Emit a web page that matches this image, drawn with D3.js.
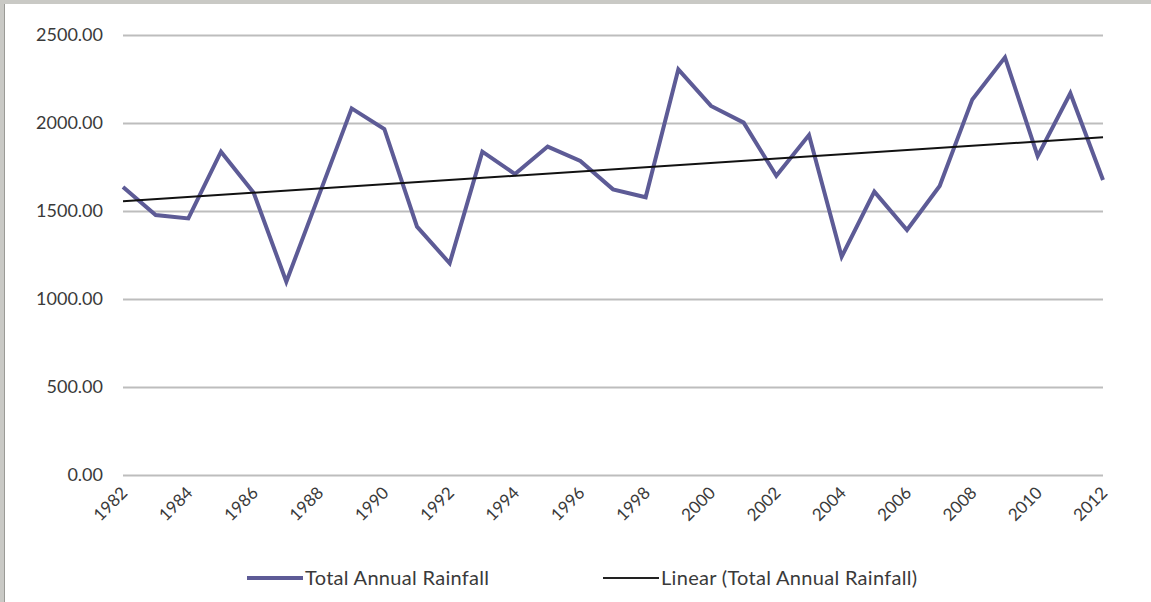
<!DOCTYPE html>
<html>
<head>
<meta charset="utf-8">
<script src="https://cdn.jsdelivr.net/npm/d3@7"></script>
<style>
  body { margin: 0; background: #fff; }
  svg { display: block; font-family: Lato, "Open Sans", sans-serif; }
</style>
</head>
<body>
<div id="chart-area"></div>
<script>
// data
var years = [1982, 1983, 1984, 1985, 1986, 1987, 1988, 1989, 1990, 1991,
             1992, 1993, 1994, 1995, 1996, 1997, 1998, 1999, 2000, 2001,
             2002, 2003, 2004, 2005, 2006, 2007, 2008, 2009, 2010, 2011, 2012];
var rainfall = [1636, 1477, 1458, 1837, 1604, 1098, 1590, 2083, 1966, 1411,
                1203, 1837, 1710, 1866, 1784, 1623, 1578, 2305, 2097, 2002,
                1700, 1932, 1240, 1610, 1392, 1642, 2134, 2373, 1812, 2169, 1676];
var yTicks = [0, 500, 1000, 1500, 2000, 2500];
var xTicks = [1982, 1984, 1986, 1988, 1990, 1992, 1994, 1996, 1998, 2000,
              2002, 2004, 2006, 2008, 2010, 2012];
var seriesName = "Total Annual Rainfall";
var trendName = "Linear (Total Annual Rainfall)";

var canvasWidth = 1151;
var canvasHeight = 602;
var margin = { left: 123, right: 48, top: 35, bottom: 127 };
var width = canvasWidth - margin.left - margin.right;
var height = canvasHeight - margin.top - margin.bottom;

var svg = d3.select("#chart-area")
    .append("svg")
        .attr("width", canvasWidth)
        .attr("height", canvasHeight);

// window frame (top + left)
svg.append("rect").attr("x", 0).attr("y", 0).attr("width", canvasWidth).attr("height", 4).attr("fill", "#c9c9c5");
svg.append("rect").attr("x", 0).attr("y", 0).attr("width", 4).attr("height", canvasHeight).attr("fill", "#c9c9c5");
svg.append("rect").attr("x", 4).attr("y", 4).attr("width", 1).attr("height", canvasHeight).attr("fill", "#9a9a96");

var g = svg.append("g")
    .attr("transform", `translate(${margin.left},${margin.top})`);

var data = years.map((yr, i) => ({ year: yr, value: rainfall[i] }));

var x = d3.scaleLinear()
    .domain([1982, 2012])
    .range([0, width]);

var y = d3.scaleLinear()
    .domain([0, 2500])
    .range([height, 0]);

// gridlines
g.append("g")
    .attr("class", "grid")
    .call(d3.axisLeft(y).tickValues(yTicks).tickSize(-width).tickFormat(""))
    .call(s => s.select(".domain").remove())
    .call(s => s.selectAll("line").attr("stroke", "#bdbdbd").attr("stroke-width", 2));

// y axis labels
g.append("g")
    .attr("class", "y-axis")
    .call(d3.axisLeft(y).tickValues(yTicks).tickSize(0).tickPadding(20).tickFormat(d3.format(".2f")))
    .call(s => s.select(".domain").remove())
    .call(s => s.selectAll("text")
        .attr("font-size", "18px")
        .attr("fill", "#3a3a3a")
        .attr("font-family", "Lato, sans-serif"));

// x axis labels, rotated
g.append("g")
    .attr("class", "x-axis")
    .attr("transform", `translate(0,${height})`)
    .call(d3.axisBottom(x).tickValues(xTicks).tickSize(0).tickFormat(d3.format("d")))
    .call(s => s.select(".domain").remove())
    .call(s => s.selectAll("text")
        .attr("font-size", "17px")
        .attr("fill", "#3a3a3a")
        .attr("font-family", "Lato, sans-serif")
        .attr("text-anchor", "end")
        .attr("x", 0)
        .attr("y", 0)
        .attr("dy", 0)
        .attr("transform", "translate(5,19) rotate(-45)"));

// rainfall line
var line = d3.line()
    .x(d => x(d.year))
    .y(d => y(d.value));

g.append("path")
    .datum(data)
    .attr("fill", "none")
    .attr("stroke", "#5d5b96")
    .attr("stroke-width", 4)
    .attr("stroke-linejoin", "miter")
    .attr("d", line);

// least squares trend
var mx = d3.mean(years), my = d3.mean(rainfall);
var slope = d3.sum(data, d => (d.year - mx) * (d.value - my)) / d3.sum(years, yr => (yr - mx) * (yr - mx));
var icpt = my - slope * mx;
var trend = [1982, 2012].map(yr => ({ year: yr, value: icpt + slope * yr }));

g.append("path")
    .datum(trend)
    .attr("fill", "none")
    .attr("stroke", "#111")
    .attr("stroke-width", 2)
    .attr("d", line);

// legend
var legend = svg.append("g").attr("class", "legend");
var items = [
    { name: seriesName, color: "#5d5b96", w: 4, x: 247 },
    { name: trendName, color: "#222", w: 2, x: 603 }
];
items.forEach(it => {
    legend.append("line")
        .attr("x1", it.x).attr("x2", it.x + 56)
        .attr("y1", 578).attr("y2", 578)
        .attr("stroke", it.color)
        .attr("stroke-width", it.w);
    legend.append("text")
        .attr("x", it.x + 58)
        .attr("y", 578)
        .attr("dy", "0.35em")
        .attr("font-size", "20px")
        .attr("letter-spacing", "0.3px")
        .attr("fill", "#3a3a3a")
        .text(it.name);
});
</script>
</body>
</html>
